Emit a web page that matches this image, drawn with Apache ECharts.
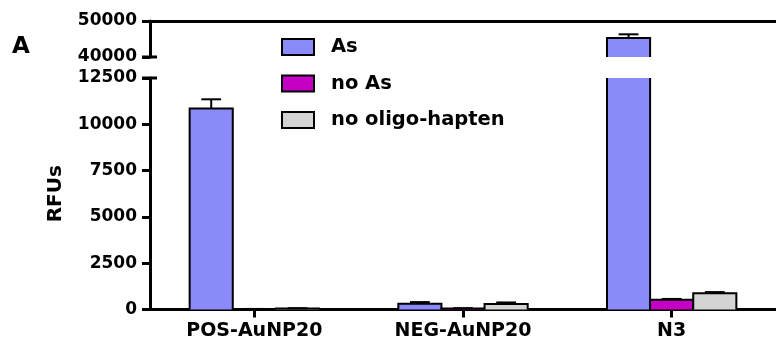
<!DOCTYPE html>
<html><head><meta charset="utf-8">
<script src="https://cdn.jsdelivr.net/npm/echarts@6/dist/echarts.min.js"></script>
<style>html,body{margin:0;padding:0;background:#fff}#c{width:776px;height:351px}</style>
</head><body><div id="c"></div>
<script>
const categories = ['POS-AuNP20', 'NEG-AuNP20', 'N3'];
const seriesNames = ['As', 'no As', 'no oligo-hapten'];
const asVals = [10850, 310, 45300];
const asErr = [500, 90, 1000];
const noAsVals = [20, 50, 520];
const noAsErr = [10, 20, 50];
const noOligoVals = [50, 300, 880];
const noOligoErr = [20, 80, 60];
const lowerTicks = [0, 2500, 5000, 7500, 10000, 12500];
const upperTicks = [40000, 50000];

const colors = ['#8a8af8', '#c400c4', '#d4d4d4'];
const FONT = 'DejaVu Sans';
const chart = echarts.init(document.getElementById('c'), null, {renderer: 'canvas'});
const GL = 150, GR = 0;
const upperMin = upperTicks[0], upperMax = upperTicks[upperTicks.length - 1];
const lowerMax = lowerTicks[lowerTicks.length - 1];
const vals = [asVals, noAsVals, noOligoVals];
const errs = [asErr, noAsErr, noOligoErr];
const GAP = 0.38;

function barSeries(gi, k) {
  return {
    name: seriesNames[k], type: 'custom', xAxisIndex: gi, yAxisIndex: gi, z: 3,
    itemStyle: {color: colors[k], borderColor: '#000', borderWidth: 2},
    data: vals[k].map((v, i) => [i, v, v + errs[k][i]]),
    renderItem: function (params, api) {
      const i = api.value(0), v = api.value(1), hi = api.value(2);
      const cs = params.coordSys;
      const catW = api.size([1, 0])[0];
      const bw = catW * (1 - GAP) / 3;
      const c0 = api.coord([i, 0]);
      const cx = c0[0] + (k - 1) * bw;
      const x0 = cx - bw / 2, x1 = cx + bw / 2;
      const yTopRaw = api.coord([i, v])[1];
      const yBaseRaw = api.coord([i, 0])[1];
      const gTop = cs.y, gBot = cs.y + cs.height;
      const top = Math.max(yTopRaw, gTop), bot = Math.min(yBaseRaw, gBot);
      const children = [];
      if (top < bot) {
        children.push({type: 'rect', shape: {x: x0, y: top, width: bw, height: bot - top},
          style: {fill: colors[k], stroke: null}});
        const topClipped = yTopRaw < gTop;
        const pts = topClipped ? null : [[x0, bot], [x0, top], [x1, top], [x1, bot]];
        if (pts) {
          children.push({type: 'polyline', shape: {points: pts}, style: {stroke: '#000', lineWidth: 2, fill: null}});
        } else {
          children.push({type: 'line', shape: {x1: x0, y1: bot, x2: x0, y2: top}, style: {stroke: '#000', lineWidth: 2}});
          children.push({type: 'line', shape: {x1: x1, y1: bot, x2: x1, y2: top}, style: {stroke: '#000', lineWidth: 2}});
        }
        // error bar (upper whisker)
        const yHi = api.coord([i, hi])[1];
        if (!topClipped && yHi >= gTop - 1) {
          const cap = bw * 0.46;
          children.push({type: 'line', shape: {x1: cx, y1: yTopRaw, x2: cx, y2: yHi}, style: {stroke: '#000', lineWidth: 2}});
          children.push({type: 'line', shape: {x1: cx - cap / 2, y1: yHi, x2: cx + cap / 2, y2: yHi}, style: {stroke: '#000', lineWidth: 2}});
        }
      }
      return {type: 'group', children: children};
    }
  };
}

const series = [];
for (let gi = 0; gi < 2; gi++) for (let k = 0; k < 3; k++) series.push(barSeries(gi, k));

const plain = v => String(v);
const yLabel = {fontFamily: FONT, fontWeight: 'bold', fontSize: 17, color: '#000', margin: 13, formatter: plain};
chart.setOption({
  animation: false,
  title: {text: 'A', left: 12, top: 36, padding: 0, textStyle: {fontFamily: FONT, fontWeight: 'bold', fontSize: 23, color: '#000'}},
  legend: {
    data: seriesNames, orient: 'vertical', left: 281, top: 37, padding: 0,
    itemWidth: 32, itemHeight: 16, itemGap: 16.5,
    icon: 'rect',
    itemStyle: {borderColor: '#000', borderWidth: 2},
    textStyle: {fontFamily: FONT, fontWeight: 'bold', fontSize: 19.5, color: '#000', padding: [0, 0, 0, 12]}
  },
  grid: [
    {left: GL, right: GR, top: 21, height: 36},
    {left: GL, right: GR, top: 78, height: 231.5}
  ],
  xAxis: [
    {type: 'category', gridIndex: 0, data: categories, position: 'top',
     axisLine: {show: true, lineStyle: {color: '#000', width: 3}}, axisTick: {show: false}, axisLabel: {show: false}},
    {type: 'category', gridIndex: 1, data: categories,
     axisLine: {show: true, lineStyle: {color: '#000', width: 3}},
     axisTick: {show: true, alignWithLabel: true, length: 8, lineStyle: {color: '#000', width: 3}},
     axisLabel: {fontFamily: FONT, fontWeight: 'bold', fontSize: 19, color: '#000', margin: 12}}
  ],
  yAxis: [
    {type: 'value', gridIndex: 0, min: upperMin, max: upperMax, interval: upperMax - upperMin,
     axisLine: {show: true, lineStyle: {color: '#000', width: 3}},
     axisTick: {show: true, length: 8, lineStyle: {color: '#000', width: 3}},
     splitLine: {show: false}, axisLabel: yLabel},
    {type: 'value', gridIndex: 1, min: 0, max: lowerMax, interval: 2500,
     name: 'RFUs', nameLocation: 'middle', nameGap: 84, nameRotate: 90,
     nameTextStyle: {fontFamily: FONT, fontWeight: 'bold', fontSize: 20, color: '#000'},
     axisLine: {show: true, lineStyle: {color: '#000', width: 3}},
     axisTick: {show: true, length: 8, lineStyle: {color: '#000', width: 3}},
     splitLine: {show: false}, axisLabel: yLabel}
  ],
  series: series
});

const yBreakTop = chart.convertToPixel({yAxisIndex: 0}, upperMin);
const yBreakLow = chart.convertToPixel({yAxisIndex: 1}, lowerMax);
chart.setOption({
  graphic: [
    {type: 'line', shape: {x1: GL - 8, y1: yBreakTop, x2: GL + 7, y2: yBreakTop}, style: {stroke: '#000', lineWidth: 3}},
    {type: 'line', shape: {x1: GL - 8, y1: yBreakLow, x2: GL + 7, y2: yBreakLow}, style: {stroke: '#000', lineWidth: 3}}
  ]
});
</script></body></html>
